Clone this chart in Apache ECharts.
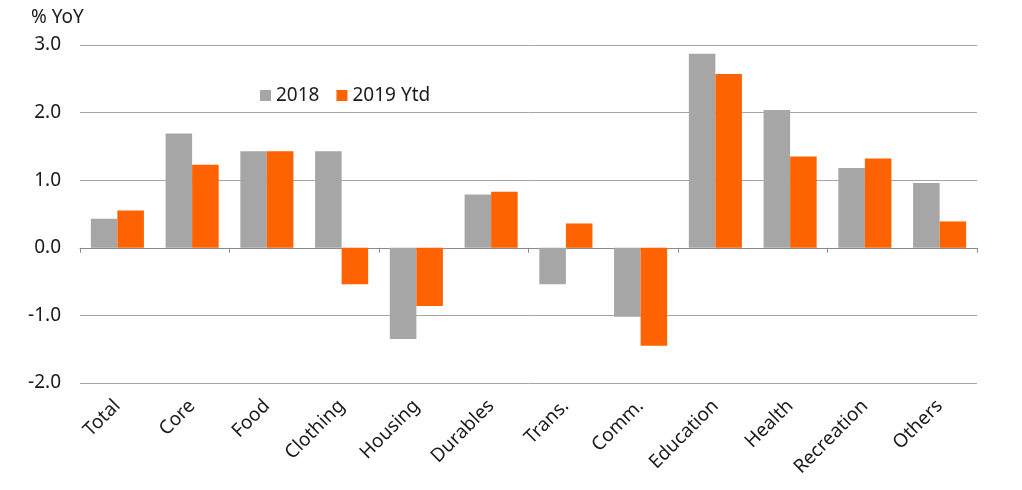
<!DOCTYPE html>
<html><head><meta charset="utf-8">
<script src="https://cdn.jsdelivr.net/npm/echarts@6/dist/echarts.min.js"></script>
<style>html,body{margin:0;padding:0;background:#fff}#c{width:1022px;height:490px}</style>
</head><body><div id="c"></div>
<script>
var categories = ["Total","Core","Food","Clothing","Housing","Durables","Trans.","Comm.","Education","Health","Recreation","Others"];
var series2018 = [0.43,1.69,1.43,1.43,-1.35,0.79,-0.54,-1.02,2.87,2.04,1.18,0.96];
var series2019 = [0.55,1.23,1.43,-0.54,-0.86,0.83,0.36,-1.45,2.57,1.35,1.32,0.39];
var seriesNames = ["2018","2019 Ytd"];
var yTicks = {min:-2, max:3, interval:1};
var FONT = "Noto Sans";
var chart = echarts.init(document.getElementById('c'));
chart.setOption({
  animation:false,
  textStyle:{fontFamily:FONT},
  graphic:[{type:'text',left:31,top:8,style:{text:'% YoY',font:'19px "Noto Sans"',fill:'#1a1a1a'}}],
  legend:{left:255,top:81,itemWidth:11,itemHeight:11,itemGap:17,
    textStyle:{fontSize:19,color:'#1a1a1a',fontFamily:FONT},
    data:[{name:seriesNames[0],icon:'rect'},{name:seriesNames[1],icon:'rect'}]},
  grid:{left:80,right:45,top:45,bottom:107,containLabel:false},
  xAxis:[
    {type:'category',data:categories,position:'bottom',
     axisLine:{show:false,onZero:false},axisTick:{show:false},
     axisLabel:{rotate:45,fontSize:19,color:'#1a1a1a',margin:20,fontFamily:FONT,interval:0}},
    {type:'category',data:categories,position:'bottom',
     axisLine:{show:true,onZero:true,lineStyle:{color:'#8c8c8c',width:1}},
     axisTick:{show:true,length:5,lineStyle:{color:'#8c8c8c'}},
     axisLabel:{show:false}}
  ],
  yAxis:{type:'value',min:yTicks.min,max:yTicks.max,interval:yTicks.interval,
    axisLine:{show:false},axisTick:{show:false},
    splitLine:{lineStyle:{color:'#a6a6a6',width:1}},
    axisLabel:{fontSize:19,color:'#1a1a1a',margin:19,fontFamily:FONT,
      formatter:function(v){return v.toFixed(1);}}},
  series:[
    {name:seriesNames[0],type:'bar',xAxisIndex:0,data:series2018,itemStyle:{color:'#a6a6a6'},barGap:'0%',barCategoryGap:'29%'},
    {name:seriesNames[1],type:'bar',xAxisIndex:0,data:series2019,itemStyle:{color:'#ff6200'},barGap:'0%',barCategoryGap:'29%'}
  ]
});
</script></body></html>
